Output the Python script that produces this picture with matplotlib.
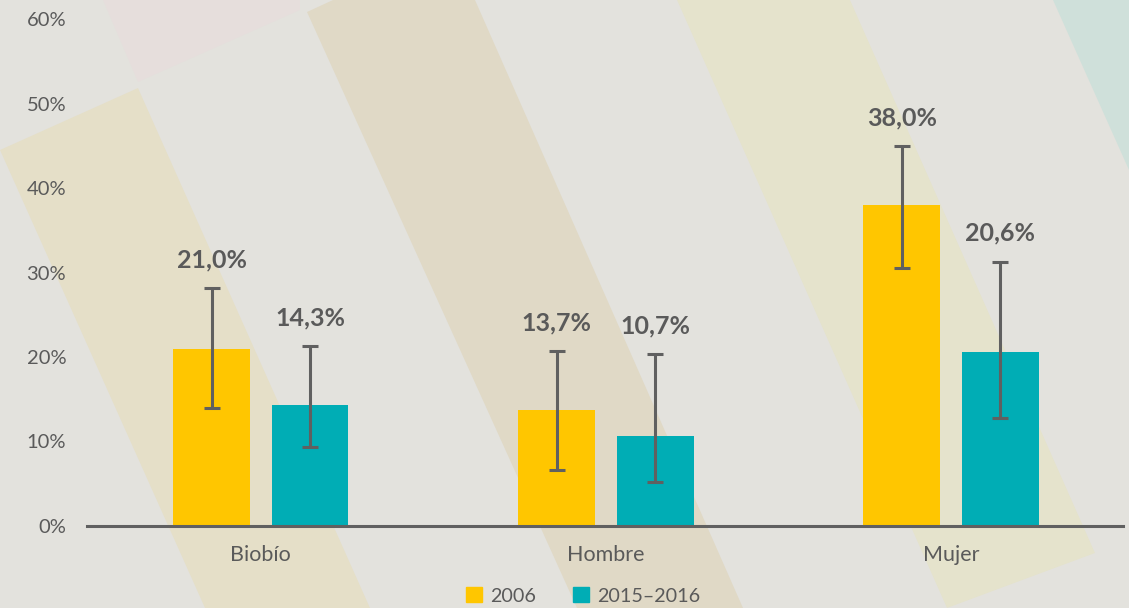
import matplotlib.pyplot as plt
from matplotlib.patches import Polygon, Patch
import numpy as np

# Data
categories = ['Biobío', 'Hombre', 'Mujer']
series_names = ['2006', '2015–2016']
values_2006 = [21.0, 13.7, 38.0]
values_2015 = [14.3, 10.7, 20.6]
low_2006 = [14.0, 6.6, 30.5]
high_2006 = [28.2, 20.7, 45.0]
low_2015 = [9.4, 5.2, 12.8]
high_2015 = [21.3, 20.4, 31.3]
yticks = [0, 10, 20, 30, 40, 50, 60]

c_2006 = '#ffc600'
c_2015 = '#00adb5'
txt = '#5a5a5a'

plt.rcParams['font.family'] = ['Lato', 'DejaVu Sans']

W, H = 1129, 608
fig = plt.figure(figsize=(W / 100, H / 100), dpi=100)
fig.patch.set_facecolor('#e3e2dd')

# decorative diagonal stripes in the background (pixel coordinates)
bands = [
    ([(103, 0), (300, 0), (300, 10), (138, 82)], '#e6dedc'),
    ([(0, 150), (138, 88), (370, 608), (205, 608)], '#e5dfc8'),
    ([(307, 12), (333, 0), (475, 0), (743, 608), (577, 608)], '#e0d9c6'),
    ([(677, 0), (850, 0), (1095, 553), (947, 608)], '#e5e3cc'),
    ([(1053, 0), (1129, 0), (1129, 170)], '#cfe0da'),
]
for pts, col in bands:
    fig.add_artist(Polygon([(x / W, 1 - y / H) for x, y in pts], closed=True,
                           transform=fig.transFigure, facecolor=col,
                           edgecolor='none', zorder=0))

ax = fig.add_axes([87 / W, 1 - 526 / H, (1123 - 87) / W, (526 - 19) / H])
ax.set_facecolor('none')

x = np.arange(len(categories))
off = 0.1427
bw = 0.223

ax.bar(x - off, values_2006, bw, color=c_2006, zorder=2)
ax.bar(x + off, values_2015, bw, color=c_2015, zorder=2)

for xs, vals, lo, hi in [(x - off, values_2006, low_2006, high_2006),
                         (x + off, values_2015, low_2015, high_2015)]:
    vals = np.array(vals)
    yerr = [vals - np.array(lo), np.array(hi) - vals]
    ax.errorbar(xs, vals, yerr=yerr, fmt='none', ecolor='#606060',
                elinewidth=2.2, capsize=6, capthick=2.2, zorder=3)
    for xi, v, h in zip(xs, vals, hi):
        ax.annotate(f'{v:.1f}%'.replace('.', ','), (xi, h), xytext=(0, 12),
                    textcoords='offset points', ha='center', va='bottom',
                    fontsize=18, fontweight='bold', color=txt)

ax.set_xlim(-0.5035, 2.4985)
ax.set_ylim(0, 60)
ax.set_yticks(yticks)
ax.set_yticklabels([f'{t}%' for t in yticks])
ax.set_xticks(x)
ax.set_xticklabels(categories)
ax.tick_params(axis='y', length=0, pad=15, labelsize=14.5, labelcolor=txt)
ax.tick_params(axis='x', length=0, pad=14, labelsize=15.5, labelcolor=txt)
for s in ['top', 'right', 'left']:
    ax.spines[s].set_visible(False)
ax.spines['bottom'].set_color('#606060')
ax.spines['bottom'].set_linewidth(2.2)
ax.spines['bottom'].set_zorder(4)

handles = [Patch(color=c_2006), Patch(color=c_2015)]
fig.legend(handles, series_names, loc='center',
           bbox_to_anchor=(583 / W, 1 - 596 / H), ncol=2, frameon=False,
           fontsize=14.2, labelcolor=txt, handlelength=0.8, handleheight=0.8,
           handletextpad=0.4, columnspacing=1.9)

fig.savefig('out.png', dpi=100, facecolor=fig.get_facecolor())
